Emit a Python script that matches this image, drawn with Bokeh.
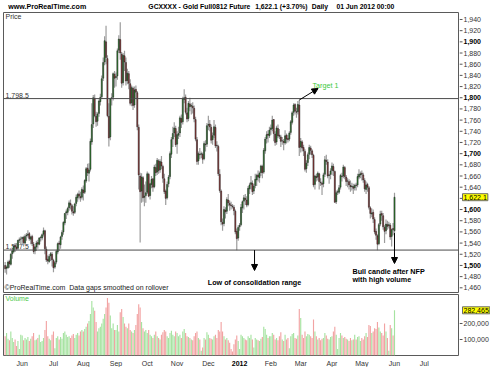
import pandas as pd
from bokeh.plotting import figure
from bokeh.layouts import column, row
from bokeh.models import (Range1d, Span, Label, Arrow, NormalHead, ColumnDataSource)
from bokeh.core.properties import value
from bokeh.embed import file_html
from bokeh.resources import INLINE

# ---------------- data (daily, 16 May 2011 .. 01 Jun 2012) ----------------
FIRST_DAY = "2011-05-16"
LAST_DAY = "2012-06-01"

opens = [
    # May 2011
    1500,1495,1496,1507,1502,1521,1525,1536,1533,1531,1545,1547,
    # Jun 2011
    1548,1550,1540,1553,1554,1557,1547,1552,1538,1526,1533,1541,1538,1550,1549,1556,1562,1529,1511,1507,1517,1520,
    # Jul 2011
    1509,1497,1506,1524,1540,1537,1552,1560,1576,1594,1595,1603,1611,1607,1596,1595,1611,1621,1628,1623,1622,
    # Aug 2011
    1635,1631,1651,1674,1665,1672,1721,1753,1799,1767,1758,1772,1793,1802,1835,1864,1900,1870,1767,1730,1799,1801,1842,
    # Sep 2011
    1836,1839,1885,1904,1878,1827,1875,1863,1831,1843,1825,1791,1817,1787,1815,1809,1747,1660,1633,1657,1622,1625,
    # Oct 2011
    1631,1663,1625,1645,1655,1641,1675,1667,1687,1671,1685,1677,1655,1633,1621,1646,1659,1699,1726,1737,1745,
    # Nov 2011
    1717,1733,1737,1763,1757,1797,1801,1773,1763,1789,1785,1785,1781,1761,1725,1687,1699,1699,1699,1691,1717,1717,
    # Dec 2011
    1751,1753,1747,1725,1733,1747,1715,1713,1663,1633,1577,1575,1599,1597,1617,1611,1608,1606,1604,1597,1561,1549,
    # Jan 2012
    1569,1573,1603,1615,1620,1617,1609,1637,1645,1647,1633,1643,1653,1662,1657,1666,1677,1667,1705,1727,1735,1732,
    # Feb 2012
    1743,1745,1761,1735,1721,1745,1733,1730,1723,1722,1719,1733,1727,1726,1738,1756,1774,1788,1775,1775,1787,
    # Mar 2012
    1712,1721,1711,1704,1673,1684,1699,1710,1705,1697,1645,1659,1658,1664,1649,1647,1646,1663,1688,1685,1661,1663,
    # Apr 2012
    1670,1677,1668,1614,1631,1631,1640,1660,1660,1675,1658,1651,1650,1643,1641,1641,1639,1644,1644,1658,1662,
    # May 2012 + 1 Jun
    1665,1662,1652,1636,1645,1639,1603,1592,1595,1582,1561,1553,1539,1574,1593,1589,1568,1562,1573,1571,1572,1552,1566,1562,
]
highs = [
    1506,1500,1509,1510,1522,1530,1537,1540,1540,1546,1550,1552,
    1552,1553,1556,1558,1563,1560,1553,1555,1542,1535,1544,1546,1551,1553,1557,1568,1564,1534,1518,1520,1524,1524,
    1512,1508,1528,1541,1544,1553,1563,1579,1594,1600,1605,1616,1618,1610,1606,1612,1627,1630,1634,1632,1640,
    1643,1654,1676,1682,1683,1727,1790,1805,1806,1775,1774,1797,1807,1840,1872,1910,1929,1876,1790,1800,1808,1845,1848,
    1845,1888,1912,1935,1882,1880,1884,1872,1852,1848,1833,1822,1820,1820,1822,1812,1752,1666,1665,1660,1645,1650,
    1668,1666,1648,1660,1656,1680,1682,1692,1690,1690,1696,1680,1664,1636,1650,1662,1704,1730,1748,1756,1750,
    1740,1748,1768,1770,1802,1815,1806,1782,1794,1800,1790,1792,1786,1766,1730,1704,1710,1704,1702,1722,1724,1755,
    1768,1760,1752,1738,1760,1752,1722,1716,1672,1636,1584,1606,1604,1622,1628,1616,1614,1610,1608,1600,1566,1572,
    1576,1610,1616,1626,1628,1624,1642,1648,1660,1652,1646,1664,1664,1670,1668,1680,1680,1710,1730,1740,1742,1748,
    1752,1768,1762,1740,1750,1752,1744,1734,1730,1726,1742,1736,1734,1740,1760,1776,1790,1790,1782,1794,1796,
    1728,1724,1716,1708,1688,1702,1716,1714,1708,1700,1662,1664,1668,1666,1656,1650,1666,1696,1698,1690,1664,1674,
    1684,1682,1670,1634,1636,1644,1664,1666,1680,1678,1662,1656,1654,1652,1648,1646,1646,1648,1664,1672,1668,
    1670,1666,1656,1650,1648,1642,1606,1602,1600,1586,1566,1556,1576,1598,1598,1594,1572,1582,1580,1578,1576,1566,1576,1630,
]
lows = [
    1487,1484,1494,1496,1500,1512,1522,1524,1527,1528,1540,1536,
    1538,1534,1537,1544,1550,1544,1538,1535,1521,1520,1526,1530,1536,1543,1545,1552,1520,1506,1502,1505,1508,1498,
    1488,1494,1502,1520,1526,1530,1546,1555,1572,1583,1590,1598,1600,1591,1589,1592,1606,1614,1618,1614,1618,
    1616,1628,1648,1660,1650,1668,1716,1746,1765,1748,1750,1766,1786,1798,1830,1858,1860,1765,1713,1724,1786,1795,1818,
    1820,1832,1880,1868,1818,1822,1848,1822,1824,1815,1786,1785,1778,1782,1798,1742,1636,1541,1612,1614,1606,1612,
    1628,1622,1618,1638,1632,1638,1660,1662,1664,1666,1672,1648,1628,1608,1618,1640,1654,1692,1712,1730,1712,
    1700,1726,1730,1746,1752,1790,1770,1756,1758,1776,1770,1772,1756,1722,1680,1680,1690,1692,1682,1688,1704,1712,
    1742,1740,1718,1716,1728,1710,1704,1660,1630,1572,1562,1570,1584,1592,1606,1598,1600,1602,1590,1556,1527,1544,
    1562,1570,1594,1600,1608,1604,1606,1628,1636,1626,1628,1638,1642,1650,1648,1660,1656,1664,1700,1718,1720,1728,
    1734,1740,1722,1714,1716,1728,1726,1712,1716,1706,1716,1718,1720,1722,1734,1752,1768,1770,1764,1770,1696,
    1702,1704,1696,1668,1666,1678,1690,1698,1692,1640,1636,1650,1652,1636,1642,1626,1640,1658,1680,1656,1646,1654,
    1662,1660,1612,1610,1626,1628,1636,1650,1656,1654,1642,1640,1636,1632,1634,1628,1634,1634,1640,1654,1656,
    1652,1648,1632,1628,1632,1600,1584,1586,1576,1556,1546,1527,1536,1570,1580,1564,1540,1556,1564,1566,1546,1534,1554,1558,
]
closes = [
    1494,1497,1506,1503,1520,1526,1535,1533,1530,1545,1546,1547,
    1550,1541,1552,1554,1556,1548,1551,1539,1525,1533,1540,1538,1549,1550,1555,1562,1530,1510,1508,1516,1521,1510,
    1496,1505,1525,1539,1538,1551,1559,1577,1593,1596,1602,1612,1608,1597,1594,1610,1622,1627,1624,1621,1636,
    1630,1652,1673,1666,1671,1722,1752,1800,1768,1757,1771,1794,1801,1834,1863,1902,1872,1768,1728,1798,1800,1843,1835,
    1838,1884,1905,1880,1826,1876,1864,1830,1844,1826,1790,1818,1786,1814,1810,1748,1662,1632,1658,1621,1624,1630,
    1664,1624,1646,1654,1640,1676,1666,1688,1670,1686,1678,1656,1632,1620,1645,1658,1700,1725,1736,1746,1716,
    1734,1736,1764,1756,1798,1800,1774,1762,1790,1784,1786,1782,1762,1726,1686,1700,1698,1700,1690,1718,1716,1750,
    1752,1748,1724,1732,1748,1714,1714,1664,1634,1578,1574,1600,1596,1618,1612,1608,1607,1605,1598,1560,1548,1568,
    1572,1604,1614,1621,1618,1608,1638,1644,1648,1632,1642,1654,1661,1658,1665,1678,1666,1706,1726,1734,1733,1742,
    1746,1760,1736,1720,1746,1732,1731,1722,1723,1720,1732,1726,1725,1737,1757,1773,1787,1776,1774,1788,1711,
    1722,1710,1705,1672,1683,1698,1711,1706,1698,1644,1660,1657,1665,1650,1648,1645,1662,1689,1686,1660,1662,1669,
    1678,1669,1613,1630,1632,1639,1661,1659,1676,1659,1650,1651,1644,1641,1642,1638,1643,1643,1659,1663,1664,
    1663,1653,1637,1644,1640,1604,1593,1594,1583,1560,1554,1538,1573,1592,1590,1569,1561,1574,1570,1573,1551,1564,1564.2,1622.1,
]
volumes_k = [  # thousands of contracts
    120,140,105,95,150,110,85,100,60,90,40,130,
    125,95,110,100,115,90,105,120,140,95,100,110,130,85,90,110,160,215,120,105,95,130,
    150,45,110,120,100,115,105,140,150,130,115,120,110,125,135,110,130,140,125,150,160,
    150,165,180,200,215,260,340,300,280,210,150,170,180,200,230,260,300,360,330,250,170,200,160,
    160,190,150,270,290,240,200,180,170,200,160,150,140,160,190,260,320,300,210,170,150,160,
    140,160,130,120,110,130,150,120,110,100,130,145,160,150,120,110,140,155,130,120,150,
    140,120,130,110,150,165,140,120,115,110,100,95,120,140,150,110,100,30,50,110,100,145,
    130,110,105,100,120,130,110,160,150,210,150,120,100,110,95,80,40,25,70,100,125,90,
    40,130,120,110,100,95,120,110,130,100,50,110,100,95,90,105,115,180,165,130,110,120,
    120,140,130,100,110,95,120,145,100,90,130,100,110,45,120,135,140,110,105,125,290,
    235,130,110,150,120,135,130,120,110,225,150,120,100,110,95,105,110,140,125,105,100,115,
    120,150,180,130,40,110,140,125,110,115,105,100,90,110,95,100,130,100,115,120,90,
    110,100,120,140,115,190,185,140,150,170,165,210,175,150,140,125,200,150,110,30,190,170,125,282.465,
]

MONTH_LABELS = ["Jun", "Jul", "Aug", "Sep", "Oct", "Nov", "Dec", "2012",
                "Feb", "Mar", "Apr", "May", "Jun", "Jul"]
BOLD_MONTHS = ["2012"]
PRICE_TICKS = list(range(1460, 1941, 20))
BOLD_PRICE_TICKS = [1500, 1600, 1700, 1800, 1900]
HIDDEN_PRICE_LABELS = [1620]          # covered by the last-price box
VOLUME_TICKS = [100000, 200000]
RESISTANCE = 1798.5
SUPPORT = 1527.5

# ---------------- derived ----------------
dates = pd.bdate_range(FIRST_DAY, LAST_DAY)
n = len(dates)
assert all(len(a) == n for a in (opens, highs, lows, closes, volumes_k))
idx = list(range(n))
volumes = [v * 1000 for v in volumes_k]
is_up = [c >= o for o, c in zip(opens, closes)]

axis_days = pd.bdate_range(FIRST_DAY, "2012-08-31")
month_starts = pd.date_range("2011-06-01", "2012-07-01", freq="MS")
month_idx = [int(axis_days.searchsorted(m)) for m in month_starts]

src = ColumnDataSource(dict(
    x=idx, low=lows, high=highs,
    top=[max(o, c) for o, c in zip(opens, closes)],
    bottom=[min(o, c) for o, c in zip(opens, closes)],
    color=["#2f8f2f" if u else "#a33b3b" for u in is_up],
    vol=volumes,
    vcolor=["#a6e3a1" if u else "#f2a3a3" for u in is_up],
))

FONT = "Liberation Sans"
TXT = "#333333"
MAIN_W, SIDE_W = 459, 31
HEAD_H, PRICE_H, VOL_H, FOOT_H = 11, 282, 63, 11
X_RANGE = Range1d(-1.16, 319.04)
P_RANGE = Range1d(1451.6, 1952.5)
V_RANGE = Range1d(0, 381250)


def panel(w, h, xr, yr, **borders):
    f = figure(width=w, height=h, x_range=xr, y_range=yr, output_backend="svg",
               toolbar_location=None, x_axis_location=None, y_axis_location=None,
               min_border=0, background_fill_color="white", border_fill_color="white", **borders)
    f.grid.visible = False
    return f


# ---------------- header strip ----------------
head = panel(MAIN_W + SIDE_W, HEAD_H, Range1d(0, MAIN_W + SIDE_W), Range1d(HEAD_H, 0),
             outline_line_color=None)
for x, t, fs in [(5, "www.ProRealTime.com", "7.1px"), (156, "GCXXXX - Gold Full0812 Future", "6.8px"),
                 (271, "1,622.1 (+3.70%)", "6.8px"), (332, "Daily", "6.8px"),
                 (358.5, "01 Jun 2012 00:00", "6.8px")]:
    head.add_layout(Label(x=x, y=5.3, text=t, text_baseline="middle", text_font=FONT,
                          text_font_size=fs, text_font_style="bold", text_color="#000000"))

# ---------------- price panel ----------------
p = panel(MAIN_W, PRICE_H, X_RANGE, P_RANGE, min_border_left=3, min_border_right=1,
          min_border_top=1, min_border_bottom=1, outline_line_color="#5a5a5a", outline_line_width=1)

for lvl, ly in ((RESISTANCE, 1804.9), (SUPPORT, 1533.4)):
    p.add_layout(Span(location=lvl, dimension="width", line_color="#4a4a4a", line_width=1))
    p.add_layout(Label(x=X_RANGE.start, x_offset=2, y=ly, text=f"{lvl:,.1f}", text_baseline="middle",
                       text_font=FONT, text_font_size="7px", text_color=TXT, level="underlay"))

p.segment(x0="x", y0="low", x1="x", y1="high", source=src, line_color="#9c9c9c", line_width=1.2)
p.vbar(x="x", width=0.75, top="top", bottom="bottom", source=src,
       fill_color="color", line_color="#1e1e1e", line_width=0.5)

p.add_layout(Label(x=X_RANGE.start, x_offset=2, y=1945.9, text="Price", text_baseline="middle",
                   text_font=FONT, text_font_size="7px", text_color=TXT))
p.add_layout(Label(x=X_RANGE.start, x_offset=1, y=1460.6,
                   text="\u00a9ProRealTime.com\u00a0 Data gaps smoothed on rollover",
                   text_baseline="middle", text_font=FONT, text_font_size="7px", text_color="#222222"))

feb29 = int(dates.get_loc(pd.Timestamp("2012-02-29")))
ah = dict(size=6, fill_color="black", line_color="black")
p.add_layout(Arrow(end=NormalHead(**ah), x_start=feb29, y_start=highs[feb29],
                   x_end=220.2, y_end=1816.6, line_color="black", line_width=1))
p.add_layout(Label(x=216.3, y=1821.9, text="Target 1", text_baseline="middle", text_font=FONT,
                   text_font_size="7.2px", text_color="#3cc83c"))

LOW_X = 175.5
p.add_layout(Arrow(end=NormalHead(**ah), x_start=LOW_X, y_start=SUPPORT, x_end=LOW_X, y_end=1491,
                   line_color="black", line_width=1))
p.add_layout(Label(x=LOW_X, y=1469, text="Low of consolidation range", text_align="center",
                   text_baseline="middle", text_font=FONT, text_font_size="7.2px",
                   text_font_style="bold", text_color="#000000"))

last = n - 1
p.add_layout(Arrow(end=NormalHead(**ah), x_start=last, y_start=lows[last], x_end=last, y_end=1503.5,
                   line_color="black", line_width=1))
for t, ty in (("Bull candle after NFP", 1489.7), ("with high volume", 1474.3)):
    p.add_layout(Label(x=244.4, y=ty, text=t, text_baseline="middle", text_font=FONT,
                       text_font_size="7.2px", text_font_style="bold", text_color="#000000"))

# ---------------- price scale strip (right) ----------------
pr = panel(SIDE_W, PRICE_H, Range1d(0, SIDE_W), P_RANGE, min_border_top=1, min_border_bottom=1,
           outline_line_color=None)
pr.segment(x0=0, x1=3, y0=PRICE_TICKS, y1=PRICE_TICKS, line_color="#555555", line_width=1)
norm = [t for t in PRICE_TICKS if t not in BOLD_PRICE_TICKS + HIDDEN_PRICE_LABELS]
pr.text(x=[4] * len(norm), y=norm, text=[f"{t:,}" for t in norm], text_baseline="middle",
        text_font=value(FONT), text_font_size="7px", text_color=TXT)
pr.text(x=[4] * len(BOLD_PRICE_TICKS), y=BOLD_PRICE_TICKS, text=[f"{t:,}" for t in BOLD_PRICE_TICKS],
        text_baseline="middle", text_font=value(FONT), text_font_size="7px",
        text_font_style="bold", text_color="#000000")
pr.add_layout(Label(x=3, y=closes[-1], text=f"{closes[-1]:,.1f}", text_baseline="middle",
                    text_font=FONT, text_font_size="7px", text_color="#000000",
                    background_fill_color="#ffff00", border_line_color="#6a6a6a", padding=1))

# ---------------- volume panel ----------------
v = panel(MAIN_W, VOL_H, X_RANGE, V_RANGE, min_border_left=3, min_border_right=1,
          min_border_top=1, min_border_bottom=1, outline_line_color="#5a5a5a", outline_line_width=1)
v.vbar(x="x", width=0.8, top="vol", bottom=0, source=src, fill_color="vcolor", line_color=None)
v.add_layout(Label(x=X_RANGE.start, x_offset=2, y=358000, text="Volume", text_baseline="middle",
                   text_font=FONT, text_font_size="7px", text_color="#4cc84c"))

vr = panel(SIDE_W, VOL_H, Range1d(0, SIDE_W), V_RANGE, min_border_top=1, min_border_bottom=1,
           outline_line_color=None)
vr.segment(x0=0, x1=3, y0=VOLUME_TICKS, y1=VOLUME_TICKS, line_color="#555555", line_width=1)
vr.text(x=[4] * len(VOLUME_TICKS), y=VOLUME_TICKS, text=[f"{t:,}" for t in VOLUME_TICKS],
        text_baseline="middle", text_font=value(FONT), text_font_size="7px", text_color=TXT)
vr.add_layout(Label(x=3, y=volumes[-1], text=f"{round(volumes[-1]):,}", text_baseline="middle",
                    text_font=FONT, text_font_size="7px", text_color="#000000",
                    background_fill_color="#ffff00", border_line_color="#6a6a6a", padding=1))

# ---------------- time scale strip (bottom) ----------------
foot = panel(MAIN_W + SIDE_W, FOOT_H, X_RANGE, Range1d(FOOT_H, 0), min_border_left=3,
             min_border_right=SIDE_W + 1, outline_line_color=None)
reg = [(i, m) for i, m in zip(month_idx, MONTH_LABELS) if m not in BOLD_MONTHS]
bold = [(i, m) for i, m in zip(month_idx, MONTH_LABELS) if m in BOLD_MONTHS]
foot.text(x=[i for i, _ in reg], y=[6] * len(reg), text=[m for _, m in reg], text_align="center",
          text_baseline="middle", text_font=value(FONT), text_font_size="7px", text_color=TXT)
foot.text(x=[i for i, _ in bold], y=[6] * len(bold), text=[m for _, m in bold], text_align="center",
          text_baseline="middle", text_font=value(FONT), text_font_size="7px",
          text_font_style="bold", text_color="#000000")

layout = column(head, row(p, pr), row(v, vr), foot)
open("out.html", "w").write(file_html(layout, INLINE))
